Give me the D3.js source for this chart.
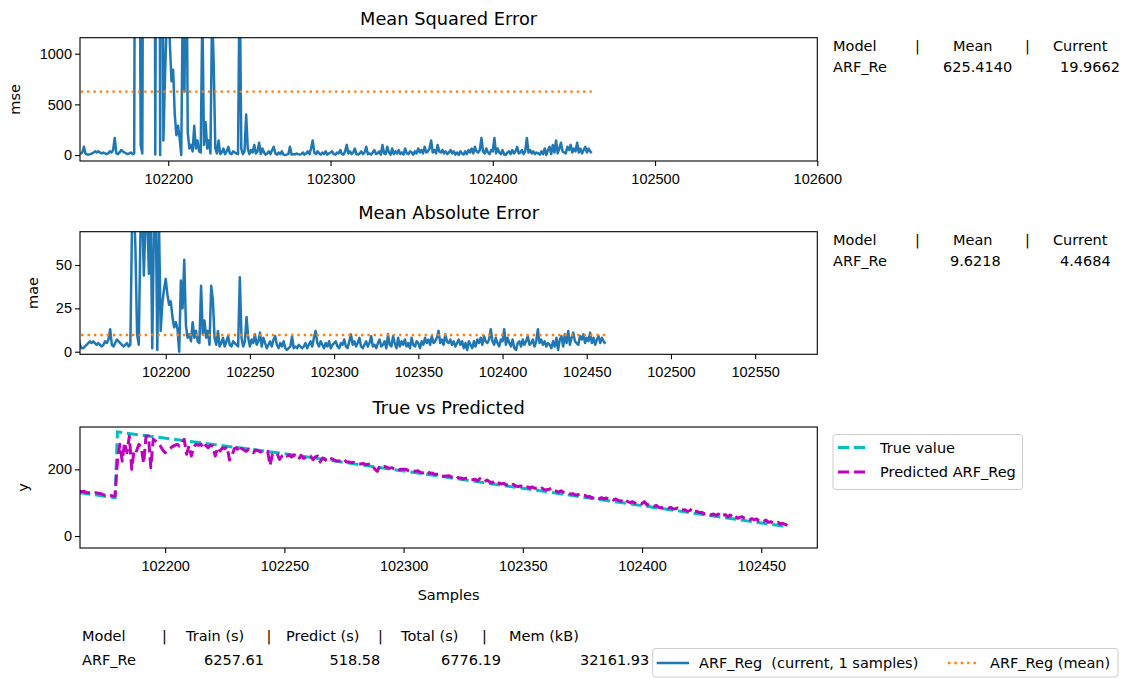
<!DOCTYPE html>
<meta charset="utf-8">
<style>
body { margin: 0; background: #fff; }
svg { font-family: "DejaVu Sans", sans-serif; }
.tick text { font-size: 14.5px; fill: #000; }
.tick line { stroke: #000; stroke-width: 1.1; }
.lbl { font-size: 14.5px; fill: #000; white-space: pre; }
.ttl { font-size: 17.8px; fill: #000; }
</style>
<body>
<script src="https://cdn.jsdelivr.net/npm/d3@7/dist/d3.min.js"></script>
<script>

// ---- data ----
var firstSample = 102146;   // mse / mae series start here, one value per sample

var mseValues = [
  9,25,81,16,4,4,9,16,25,36, 25,36,25,16,25,16,9,16,36,25, 49,169,16,9,25,49,36,25,16,9, 16,25,9,16,
  5625,8100,3600,100,16,4900,7225,1936,5625,6400,
  2025,7225,4,5184,8100,1,5625,144,784,1296,
  1764,1089,729,841,400,196,289,169,0,1681,
  625,2809,225,64,100,36,289,64,144,36,
  25,1444,100,324,64,144,16,1444,900,64,
  16,144,9,25,64,9,36,81,16,9,
  36,25,16,9,1849,64,9,36,400,64,
  9,49,25,100,16,36,121,9,64,25,
  4,
  16,36,9,49,81,16,4,25,9,36,
  4,1,4,9,81,4,9,4,16,9,
  4,9,25,4,16,36,9,64,144,25,
  9,36,16,4,25,9,36,4,16,25,
  36,9,4,25,16,49,9,4,36,100,
  16,36,9,25,64,9,4,16,36,9,
  25,81,9,16,4,25,49,9,16,36,
  4,100,16,9,81,25,4,64,9,36,
  16,49,9,25,4,64,16,9,36,25,
  4,36,16,64,25,49,16,81,25,36,
  64,144,25,49,16,100,36,25,49,16,
  36,9,25,49,16,36,4,25,1,36,
  16,4,36,9,49,25,64,16,81,36,
  25,49,169,36,16,64,25,9,49,36,
  169,16,64,25,9,49,4,1,25,36,
  9,49,16,36,81,16,25,49,9,36,
  169,25,49,16,36,9,25,16,4,36,
  9,64,1,49,81,9,100,25,144,16,
  64,121,36,25,16,81,49,100,25,64,
  36,121,25,64,16,49,81,25,64,36,
  19.9662
];

var maeValues = [
  3,5,9,4,2,2,3,4,5,6, 5,6,5,4,5,4,3,4,6,5, 7,13,4,3,5,7,6,5,4,3, 4,5,3,4,
  75,90,60,10,4,70,85,44,75,80,
  45,85,2,72,90,1,75,12,28,36,
  42,33,27,29,20,14,17,13,0,41,
  25,53,15,8,10,6,17,8,12,6,
  5,38,10,18,8,12,4,38,30,8,
  4,12,3,5,8,3,6,9,4,3,
  6,5,4,3,43,8,3,6,20,8,
  3,7,5,10,4,6,11,3,8,5,
  2,
  4,6,3,7,9,4,2,5,3,6,
  2,1,2,3,9,2,3,2,4,3,
  2,3,5,2,4,6,3,8,12,5,
  3,6,4,2,5,3,6,2,4,5,
  6,3,2,5,4,7,3,2,6,10,
  4,6,3,5,8,3,2,4,6,3,
  5,9,3,4,2,5,7,3,4,6,
  2,10,4,3,9,5,2,8,3,6,
  4,7,3,5,2,8,4,3,6,5,
  2,6,4,8,5,7,4,9,5,6,
  8,12,5,7,4,10,6,5,7,4,
  6,3,5,7,4,6,2,5,1,6,
  4,2,6,3,7,5,8,4,9,6,
  5,7,13,6,4,8,5,3,7,6,
  13,4,8,5,3,7,2,1,5,6,
  3,7,4,6,9,4,5,7,3,6,
  13,5,7,4,6,3,5,4,2,6,
  3,8,1,7,9,3,10,5,12,4,
  8,11,6,5,4,9,7,10,5,8,
  6,11,5,8,4,7,9,5,8,6,
  4.4684
];

var mseMean = 625.4140;
var maeMean = 9.6218;

// true value (straight pieces, read at these samples)
var trueSamples = [102164, 102179, 102180, 102250, 102300, 102350, 102400, 102450, 102461];
var trueValues  = [130, 115, 312, 247, 195, 143, 91, 39, 28];

// predicted, one value per sample from predStart
var predStart = 102164;
var predValues = [
  135,133,134,130,130,128,129,130,128,127,124,122,122,122,120,119,
  225,275,225,280,250,300,200,260,255,275,
  265,218,300,300,205,290,285,280,270,258,
  250,255,262,268,272,275,270,278,290,245,
  270,240,268,275,272,276,262,272,265,272,
  270,240,265,255,264,262,268,228,240,262,
  265,252,263,258,254,261,255,250,258,256,
  252,255,254,254,212,245,250,246,230,240,
  246,240,243,237,243,240,230,242,233,236,
  239,
  240,229,237,240,222,234,231,223,230,232,
  227,225,225,225,230,222,222,220,221,219,
  217,216,218,214,215,215,211,200,194,210,
  207,209,206,203,205,202,204,199,200,200,
  200,196,194,196,194,196,191,189,192,195,
  188,189,185,185,187,181,179,180,181,177,
  178,181,174,174,171,173,174,169,169,170,
  165,172,165,163,168,163,159,164,157,159,
  156,158,153,154,150,155,150,148,150,148,
  144,147,144,147,143,144,140,144,139,139,
  140,143,135,135,131,136,131,129,130,126,
  127,123,124,125,121,122,117,119,114,118,
  115,112,115,111,114,111,113,108,111,107,
  105,106,111,103,100,103,99,96,99,97,
  103,93,96,92,89,92,86,84,87,87,
  83,86,81,82,84,78,78,79,74,76,
  82,73,74,70,71,67,68,66,63,66,
  62,66,58,63,64,57,63,57,62,53,
  56,58,52,50,48,52,49,51,45,47,
  44,48,41,43,38,40,41,36,38,35,32
];

// tick values
var mseXTicks = [102200, 102300, 102400, 102500, 102600];
var mseYTicks = [0, 500, 1000];
var maeXTicks = [102200, 102250, 102300, 102350, 102400, 102450, 102500, 102550];
var maeYTicks = [0, 25, 50];
var yXTicks = [102200, 102250, 102300, 102350, 102400, 102450];
var yYTicks = [0, 200];

// text blocks
var statHead = ["Model", "|", "Mean", "|", "Current"];
var mseRow = ["ARF_Re", "625.4140", "19.9662"];
var maeRow = ["ARF_Re", "9.6218", "4.4684"];
var timeHead = ["Model", "|", "Train (s)", "|", "Predict (s)", "|", "Total (s)", "|", "Mem (kB)"];
var timeRow = ["ARF_Re", "6257.61", "518.58", "6776.19", "32161.93"];
var panelLegend = ["True value", "Predicted ARF_Reg"];
var bottomLegend = ["ARF_Reg  (current, 1 samples)", "ARF_Reg (mean)"];

// ---- layout ----
var W = 1126, H = 679;
var blue = "#1f77b4", orange = "#ff7f0e", cyan = "#00bfbf", magenta = "#bf00bf";

var svg = d3.select("body").append("svg")
    .attr("width", W)
    .attr("height", H);

var mseSamples = mseValues.map(function(d, i) { return firstSample + i; });

function panel(id, top, bottom, xDom, yDom, xTicks, yTicks, title, ylabel, ylabelX) {
  var x = d3.scaleLinear().domain(xDom).range([80, 817.3]);
  var y = d3.scaleLinear().domain(yDom).range([bottom, top]);

  svg.append("clipPath").attr("id", id)
    .append("rect")
      .attr("x", 80).attr("y", top)
      .attr("width", 737.3).attr("height", bottom - top);

  var g = svg.append("g");
  var plot = g.append("g").attr("clip-path", "url(#" + id + ")");

  g.append("g")
      .attr("transform", "translate(0," + bottom + ")")
      .call(d3.axisBottom(x).tickValues(xTicks).tickFormat(d3.format("d")).tickSize(5).tickPadding(7.5))
      .call(function(a) { a.select(".domain").remove(); });

  g.append("g")
      .attr("transform", "translate(80,0)")
      .call(d3.axisLeft(y).tickValues(yTicks).tickFormat(d3.format("d")).tickSize(5).tickPadding(3))
      .call(function(a) { a.select(".domain").remove(); });

  svg.append("text").attr("class", "ttl")
      .attr("x", 448.6).attr("y", top - 13)
      .attr("text-anchor", "middle")
      .text(title);

  svg.append("text").attr("class", "lbl")
      .attr("transform", "translate(" + ylabelX + "," + ((top + bottom) / 2) + ") rotate(-90)")
      .attr("text-anchor", "middle")
      .attr("dy", "0.35em")
      .text(ylabel);

  return {x: x, y: y, plot: plot, g: g, top: top, bottom: bottom};
}

function frame(p) {
  p.g.append("rect")
      .attr("x", 80).attr("y", p.top)
      .attr("width", 737.3).attr("height", p.bottom - p.top)
      .attr("fill", "none")
      .attr("stroke", "#000")
      .attr("stroke-width", 1.1);
}

// ---- panel 1: MSE ----
var p1 = panel("c1", 37.7, 161, [102145.6, 102600], [-59, 1158], mseXTicks, mseYTicks,
               "Mean Squared Error", "mse", 15);

p1.plot.append("path")
    .datum(mseValues)
    .attr("fill", "none")
    .attr("stroke", blue)
    .attr("stroke-width", 2.5)
    .attr("stroke-linejoin", "round")
    .attr("d", d3.line()
      .x(function(d, i) { return p1.x(mseSamples[i]); })
      .y(function(d) { return p1.y(d); }));

p1.plot.append("path")
    .datum(d3.extent(mseSamples))
    .attr("fill", "none")
    .attr("stroke", orange)
    .attr("stroke-width", 2.4)
    .attr("stroke-dasharray", "2.4,3.96")
    .attr("d", d3.line()
      .x(function(d) { return p1.x(d); })
      .y(function() { return p1.y(mseMean); }));
frame(p1);

// ---- panel 2: MAE ----
var p2 = panel("c2", 231.7, 354.3, [102149.1, 102586.9], [-1.5, 69.2], maeXTicks, maeYTicks,
               "Mean Absolute Error", "mae", 33);

p2.plot.append("path")
    .datum(maeValues)
    .attr("fill", "none")
    .attr("stroke", blue)
    .attr("stroke-width", 2.5)
    .attr("stroke-linejoin", "round")
    .attr("d", d3.line()
      .x(function(d, i) { return p2.x(mseSamples[i]); })
      .y(function(d) { return p2.y(d); }));

p2.plot.append("path")
    .datum(d3.extent(mseSamples))
    .attr("fill", "none")
    .attr("stroke", orange)
    .attr("stroke-width", 2.4)
    .attr("stroke-dasharray", "2.4,3.96")
    .attr("d", d3.line()
      .x(function(d) { return p2.x(d); })
      .y(function() { return p2.y(maeMean); }));
frame(p2);

// ---- panel 3: true vs predicted ----
var p3 = panel("c3", 427, 548, [102164.3, 102473.5], [-36, 327], yXTicks, yYTicks,
               "True vs Predicted", "y", 23);

p3.plot.append("path")
    .datum(trueValues)
    .attr("fill", "none")
    .attr("stroke", cyan)
    .attr("stroke-width", 3)
    .attr("stroke-dasharray", "11.1,4.8")
    .attr("d", d3.line()
      .x(function(d, i) { return p3.x(trueSamples[i]); })
      .y(function(d) { return p3.y(d); }));

p3.plot.append("path")
    .datum(predValues)
    .attr("fill", "none")
    .attr("stroke", magenta)
    .attr("stroke-width", 3)
    .attr("stroke-dasharray", "11.1,4.8")
    .attr("stroke-linejoin", "round")
    .attr("d", d3.line()
      .x(function(d, i) { return p3.x(predStart + i); })
      .y(function(d) { return p3.y(d); }));
frame(p3);

svg.append("text").attr("class", "lbl")
    .attr("x", 448.6).attr("y", 600)
    .attr("text-anchor", "middle")
    .text("Samples");

// legend of panel 3
svg.append("rect")
    .attr("x", 833).attr("y", 434.5)
    .attr("width", 189.5).attr("height", 55)
    .attr("rx", 3)
    .attr("fill", "#fff").attr("fill-opacity", 0.8)
    .attr("stroke", "#cccccc").attr("stroke-width", 1);

var lg = svg.append("g").selectAll("g")
  .data(panelLegend)
  .enter().append("g")
    .attr("transform", function(d, i) { return "translate(0," + (447.5 + i * 24.5) + ")"; });

lg.append("line")
    .attr("x1", 838).attr("x2", 867)
    .attr("stroke", function(d, i) { return i ? magenta : cyan; })
    .attr("stroke-width", 3)
    .attr("stroke-dasharray", "11.1,4.8");

lg.append("text").attr("class", "lbl")
    .attr("x", 880).attr("dy", "0.35em")
    .text(function(d) { return d; });

// ---- stat blocks on the right ----
var headX = [833, 915, 953, 1025, 1053];

function statBlock(base, row, rowX) {
  svg.append("g").selectAll("text")
    .data(statHead).enter().append("text").attr("class", "lbl")
      .attr("x", function(d, i) { return headX[i]; })
      .attr("y", base)
      .text(function(d) { return d; });
  svg.append("g").selectAll("text")
    .data(row).enter().append("text").attr("class", "lbl")
      .attr("x", function(d, i) { return rowX[i]; })
      .attr("y", base + 21)
      .text(function(d) { return d; });
}
statBlock(50.5, mseRow, [833, 943, 1060]);
statBlock(244.5, maeRow, [833, 950, 1060]);

// ---- timing table at the bottom ----
var timeHeadX = [82, 162, 186, 266.5, 286, 378, 401, 482, 509];
var timeRowX = [82, 204, 329.5, 441, 580];

svg.append("g").selectAll("text")
  .data(timeHead).enter().append("text").attr("class", "lbl")
    .attr("x", function(d, i) { return timeHeadX[i]; })
    .attr("y", 641)
    .text(function(d) { return d; });

svg.append("g").selectAll("text")
  .data(timeRow).enter().append("text").attr("class", "lbl")
    .attr("x", function(d, i) { return timeRowX[i]; })
    .attr("y", 664.5)
    .text(function(d) { return d; });

// ---- bottom legend ----
svg.append("rect")
    .attr("x", 652.7).attr("y", 648.5)
    .attr("width", 465.3).attr("height", 28.5)
    .attr("rx", 3)
    .attr("fill", "#fff").attr("fill-opacity", 0.8)
    .attr("stroke", "#cccccc").attr("stroke-width", 1);

svg.append("line")
    .attr("x1", 656.7).attr("x2", 689).attr("y1", 663).attr("y2", 663)
    .attr("stroke", blue).attr("stroke-width", 2.5);

svg.append("line")
    .attr("x1", 948).attr("x2", 976).attr("y1", 663).attr("y2", 663)
    .attr("stroke", orange).attr("stroke-width", 2.4)
    .attr("stroke-dasharray", "2.4,3.96");

svg.append("g").selectAll("text")
  .data(bottomLegend).enter().append("text").attr("class", "lbl")
    .attr("x", function(d, i) { return i ? 990 : 699; })
    .attr("y", 663)
    .attr("dy", "0.35em")
    .text(function(d) { return d; });

</script>
</body>
